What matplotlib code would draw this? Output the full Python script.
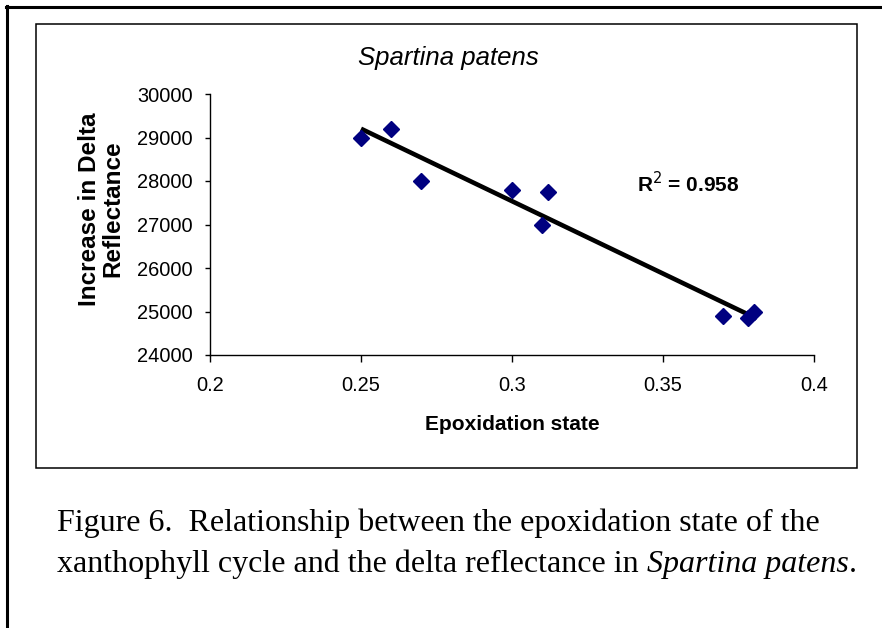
import numpy as np
import matplotlib
matplotlib.use("Agg")
import matplotlib.pyplot as plt
from matplotlib.lines import Line2D
from matplotlib.patches import Rectangle

# Data
epox = [0.25, 0.26, 0.27, 0.30, 0.312, 0.31, 0.37, 0.378, 0.38]
delta_refl = [29000, 29200, 28000, 27800, 27750, 27000, 24900, 24850, 25000]
title = "Spartina patens"
xlabel = "Epoxidation state"
ylabel = "Increase in Delta\nReflectance"
r2_text = "R$^{2}$ = 0.958"
xticks = [0.2, 0.25, 0.3, 0.35, 0.4]
xticklabels = ["0.2", "0.25", "0.3", "0.35", "0.4"]
yticks = [24000, 25000, 26000, 27000, 28000, 29000, 30000]

W, H = 882, 628
fig = plt.figure(figsize=(W / 100, H / 100), dpi=100)
fig.patch.set_facecolor("white")

def fx(px):
    return px / W

def fy(py):
    return 1 - py / H

# Outer page lines (top and left)
fig.add_artist(Line2D([fx(6), 1.0], [fy(6.5), fy(6.5)], color="black", lw=2.2, transform=fig.transFigure))
fig.add_artist(Line2D([fx(6.5), fx(6.5)], [fy(6), 0.0], color="black", lw=2.2, transform=fig.transFigure))

# Inner chart frame
fig.add_artist(Rectangle((fx(36), fy(468)), fx(857) - fx(36), fy(24) - fy(468),
                         fill=False, edgecolor="black", lw=1.1, transform=fig.transFigure))

ax = fig.add_axes([fx(210), fy(355), fx(814) - fx(210), fy(94) - fy(355)])
ax.set_xlim(0.2, 0.4)
ax.set_ylim(24000, 30000)
for s in ["top", "right"]:
    ax.spines[s].set_visible(False)
for s in ["left", "bottom"]:
    ax.spines[s].set_linewidth(1.0)
ax.set_xticks(xticks)
ax.set_xticklabels(xticklabels)
ax.set_yticks(yticks)
ax.set_yticklabels([str(v) for v in yticks])
ax.tick_params(axis="x", length=5, width=1, pad=10, labelsize=14.4)
ax.tick_params(axis="y", length=3.5, width=1, pad=9, labelsize=14.4)
for lab in ax.get_xticklabels() + ax.get_yticklabels():
    lab.set_fontfamily("Liberation Sans")

# Trend line (least squares)
x = np.array(epox)
y = np.array(delta_refl)
m, b = np.polyfit(x, y, 1)
xl = np.array([x.min(), x.max()])
ax.plot(xl, m * xl + b, color="black", lw=3.3, zorder=2, solid_capstyle="butt")
ax.plot(epox, delta_refl, linestyle="none", marker="D", ms=8.2, color="#000080",
        markeredgecolor="#000080", zorder=3, clip_on=False)

fig.text(fx(448), fy(58), title, ha="center", va="center", fontsize=18.5,
         style="italic", family="Liberation Sans")
fig.text(fx(512), fy(424), xlabel, ha="center", va="center", fontsize=15,
         weight="bold", family="Liberation Sans")
fig.text(fx(101), fy(209), ylabel, ha="center", va="center", fontsize=17.5,
         weight="bold", family="Liberation Sans", rotation=90, linespacing=1.0,
         multialignment="center")
fig.text(fx(688), fy(184), r2_text, ha="center", va="center", fontsize=15,
         weight="bold", family="Liberation Sans")

# Caption
cap_fs = 23.0
fig.text(fx(57), fy(531), "Figure 6.  Relationship between the epoxidation state of the",
         ha="left", va="baseline", fontsize=cap_fs, family="Liberation Serif")
t1 = fig.text(fx(57), fy(572), "xanthophyll cycle and the delta reflectance in ",
              ha="left", va="baseline", fontsize=cap_fs, family="Liberation Serif")
renderer = fig.canvas.get_renderer()
bb = t1.get_window_extent(renderer)
t2 = fig.text(bb.x1 / W, fy(572), "Spartina patens",
              ha="left", va="baseline", fontsize=cap_fs, family="Liberation Serif", style="italic")
bb2 = t2.get_window_extent(renderer)
fig.text(bb2.x1 / W, fy(572), ".", ha="left", va="baseline", fontsize=cap_fs,
         family="Liberation Serif")

fig.savefig("out.png", dpi=100, facecolor="white")
